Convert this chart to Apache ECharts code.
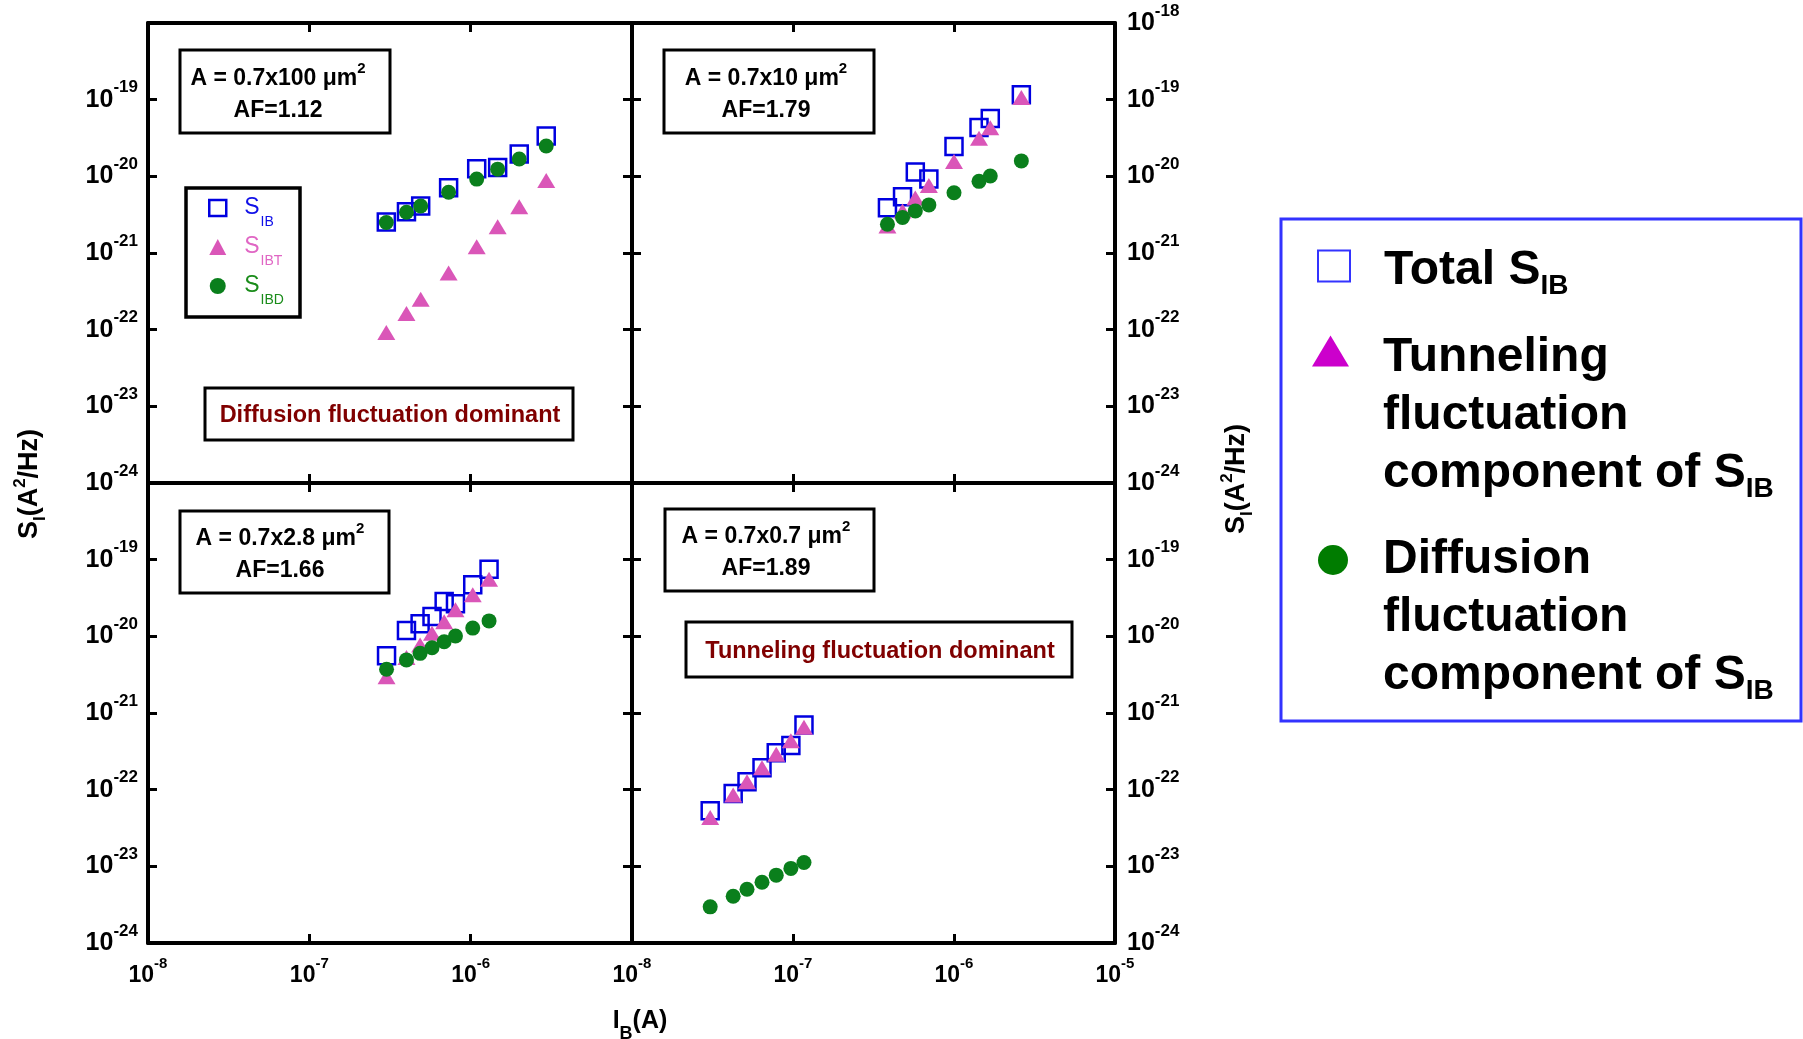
<!DOCTYPE html>
<html>
<head>
<meta charset="utf-8">
<script src="https://cdn.jsdelivr.net/npm/echarts/dist/echarts.min.js"></script>
<style>html,body{margin:0;padding:0;background:#fff}#chart{width:1803px;height:1039px}</style>
</head>
<body>
<div id="chart"></div>
<script>
// ---------------- data ----------------
const xExponents = [-8, -7, -6, -5];                    // I_B tick labels 10^n
const yExponents = [-24, -23, -22, -21, -20, -19, -18]; // S_I tick labels 10^n

const areaLabels = ['0.7x100', '0.7x10', '0.7x2.8', '0.7x0.7'];
const afLabels = ['AF=1.12', 'AF=1.79', 'AF=1.66', 'AF=1.89'];
const seriesNames = ['Total S_IB', 'Tunneling fluctuation component of S_IB', 'Diffusion fluctuation component of S_IB'];

// A = 0.7x100 um^2
const ib_100   = [3.0e-7, 4.0e-7, 4.9e-7, 7.3e-7, 1.09e-6, 1.47e-6, 2.0e-6, 2.94e-6];
const sib_100  = [2.54e-21, 3.46e-21, 4.1e-21, 7.1e-21, 1.26e-20, 1.3e-20, 1.95e-20, 3.36e-20];
const sibt_100 = [9.2e-23, 1.63e-22, 2.5e-22, 5.5e-22, 1.21e-21, 2.2e-21, 4.0e-21, 8.8e-21];
const sibd_100 = [2.5e-21, 3.4e-21, 4.1e-21, 6.2e-21, 9.2e-21, 1.24e-20, 1.68e-20, 2.49e-20];

// A = 0.7x10 um^2
const ib_10   = [3.86e-7, 4.79e-7, 5.75e-7, 6.98e-7, 1.0e-6, 1.43e-6, 1.68e-6, 2.62e-6];
const sib_10  = [3.9e-21, 5.4e-21, 1.14e-20, 9.2e-21, 2.45e-20, 4.34e-20, 5.7e-20, 1.16e-19];
const sibt_10 = [2.25e-21, 3.54e-21, 5.2e-21, 7.6e-21, 1.56e-20, 3.15e-20, 4.3e-20, 1.07e-19];
const sibd_10 = [2.37e-21, 2.9e-21, 3.54e-21, 4.24e-21, 6.1e-21, 8.6e-21, 1.01e-20, 1.59e-20];

// A = 0.7x2.8 um^2
const ib_28   = [3.01e-7, 4.0e-7, 4.86e-7, 5.76e-7, 6.85e-7, 8.05e-7, 1.03e-6, 1.30e-6];
const sib_28  = [5.6e-21, 1.19e-20, 1.46e-20, 1.82e-20, 2.85e-20, 2.66e-20, 4.7e-20, 7.5e-20];
const sibt_28 = [2.98e-21, 5.3e-21, 7.7e-21, 1.1e-20, 1.55e-20, 2.22e-20, 3.48e-20, 5.57e-20];
const sibd_28 = [3.72e-21, 4.93e-21, 6.0e-21, 7.1e-21, 8.5e-21, 1.01e-20, 1.28e-20, 1.59e-20];

// A = 0.7x0.7 um^2
const ib_07   = [3.06e-8, 4.25e-8, 5.18e-8, 6.42e-8, 7.87e-8, 9.7e-8, 1.17e-7];
const sib_07  = [5.3e-23, 8.9e-23, 1.27e-22, 1.93e-22, 3.03e-22, 3.78e-22, 6.98e-22];
const sibt_07 = [4.35e-23, 8.5e-23, 1.27e-22, 1.93e-22, 2.89e-22, 4.35e-22, 6.5e-22];
const sibd_07 = [2.96e-24, 4.07e-24, 5.03e-24, 6.2e-24, 7.67e-24, 9.4e-24, 1.12e-23];

// ---------------- chart ----------------
const F = '"Liberation Sans", Arial, Helvetica, sans-serif';
const panels = [
  [ib_100, sib_100, sibt_100, sibd_100],
  [ib_10, sib_10, sibt_10, sibd_10],
  [ib_28, sib_28, sibt_28, sibd_28],
  [ib_07, sib_07, sibt_07, sibd_07]
];
const gridBoxes = [
  {left: 148, top: 23, width: 484, height: 460},
  {left: 632, top: 23, width: 483, height: 460},
  {left: 148, top: 483, width: 484, height: 460},
  {left: 632, top: 483, width: 483, height: 460}
];

const yRich = {
  b: {fontSize: 25, fontWeight: 'bold', fontFamily: F, lineHeight: 26, color: '#000'},
  s: {fontSize: 17, fontWeight: 'bold', fontFamily: F, lineHeight: 26, padding: [0, 0, 24, 0], color: '#000'}
};
const xRich = {
  b: {fontSize: 23, fontWeight: 'bold', fontFamily: F, lineHeight: 26, color: '#000'},
  s: {fontSize: 15, fontWeight: 'bold', fontFamily: F, lineHeight: 26, padding: [0, 0, 24, 0], color: '#000'}
};
function powLabel(v) {
  const e = Math.round(Math.log10(v));
  if (!isFinite(e)) return '';
  return '{b|10}{s|' + e + '}';
}
const toVals = exps => exps.map(e => Math.pow(10, e));
function baseAxis(extra) {
  return Object.assign({
    type: 'log', logBase: 10,
    splitLine: {show: false}, minorTick: {show: false}, minorSplitLine: {show: false},
    axisLine: {show: true, onZero: false, lineStyle: {color: '#000', width: 4}},
    silent: true
  }, extra);
}
function ticks(exps) {
  return {show: true, inside: true, length: 9, lineStyle: {color: '#000', width: 3}, customValues: toVals(exps)};
}
const xMin = Math.pow(10, xExponents[0]), xMax = Math.pow(10, xExponents[xExponents.length - 1]);
const yMin = Math.pow(10, yExponents[0]), yMax = Math.pow(10, yExponents[yExponents.length - 1]);

const xAxes = [], yAxes = [];
for (let g = 0; g < 4; g++) {
  const bottomRow = g >= 2;
  const xLabelExps = g === 2 ? xExponents.slice(0, -1) : xExponents;
  xAxes.push(baseAxis({gridIndex: g, position: 'bottom', min: xMin, max: xMax, splitNumber: 3,
    axisTick: ticks(xExponents),
    axisLabel: {show: bottomRow, margin: 20, formatter: powLabel, rich: xRich, customValues: toVals(xLabelExps)}}));
  xAxes.push(baseAxis({gridIndex: g, position: 'top', min: xMin, max: xMax, splitNumber: 3,
    axisTick: ticks(xExponents), axisLabel: {show: false}}));
  const leftCol = g % 2 === 0;
  const yLabelExps = g === 1 ? yExponents : yExponents.slice(0, -1);
  yAxes.push(baseAxis({gridIndex: g, position: 'left', min: yMin, max: yMax, splitNumber: 6,
    axisTick: ticks(yExponents),
    axisLabel: {show: leftCol, margin: 10, formatter: powLabel, rich: yRich, customValues: toVals(yLabelExps)}}));
  yAxes.push(baseAxis({gridIndex: g, position: 'right', min: yMin, max: yMax, splitNumber: 6,
    axisTick: ticks(yExponents),
    axisLabel: {show: !leftCol, margin: 12, formatter: powLabel, rich: yRich, customValues: toVals(yLabelExps)}}));
}

const symbolStyles = [
  {symbol: 'rect', symbolSize: 17, itemStyle: {color: 'rgba(0,0,0,0)', borderColor: '#0000e0', borderWidth: 2.5, opacity: 1}, z: 3},
  {symbol: 'triangle', symbolSize: [18, 15], itemStyle: {color: '#da56b8', opacity: 1}, z: 4},
  {symbol: 'circle', symbolSize: 15, itemStyle: {color: '#0a7f1c', opacity: 1}, z: 5}
];
const series = [];
panels.forEach((p, g) => {
  for (let k = 0; k < 3; k++) {
    const ys = p[k + 1];
    series.push(Object.assign({
      type: 'scatter', name: seriesNames[k], xAxisIndex: 2 * g, yAxisIndex: 2 * g,
      data: p[0].map((x, i) => [x, ys[i]]),
      emphasis: {disabled: true}, animation: false
    }, symbolStyles[k]));
  }
});

// small legend inside the first panel
const smallSub = ['IB', 'IBT', 'IBD'];
const smallColors = ['#1010e8', '#e066c4', '#1a8c1a'];
const smallIcons = [
  {icon: 'rect', itemStyle: {color: 'rgba(0,0,0,0)', borderColor: '#0000e0', borderWidth: 2.5}},
  {icon: 'triangle', itemStyle: {color: '#da56b8', borderWidth: 0}},
  {icon: 'circle', itemStyle: {color: '#0a7f1c', borderWidth: 0}}
];
const smallLegend = {
  orient: 'vertical', left: 208, top: 187, padding: 0, itemGap: -3, itemWidth: 17, itemHeight: 16,
  selectedMode: false,
  formatter: name => '{m|S}{sub|' + smallSub[seriesNames.indexOf(name)] + '}',
  textStyle: {fontSize: 23, fontFamily: F, lineHeight: 26, padding: [0, 0, 0, 13]},
  data: seriesNames.map((n, k) => Object.assign({
    name: n,
    textStyle: {color: smallColors[k], rich: {
      m: {fontSize: 23, fontFamily: F, lineHeight: 26, color: smallColors[k]},
      sub: {fontSize: 14, fontFamily: F, lineHeight: 26, padding: [28, 0, 0, 1], color: smallColors[k]}
    }}
  }, smallIcons[k]))
};

// big legend on the right
const bigRich = {
  sub: {fontSize: 28, fontWeight: 'bold', fontFamily: F, lineHeight: 58, padding: [30, 0, 0, 0], color: '#000'}
};
const bigText = [
  'Total S{sub|IB}',
  'Tunneling\nfluctuation\ncomponent of S{sub|IB}',
  'Diffusion\nfluctuation\ncomponent of S{sub|IB}'
];
function bigLegend(k, left, top, w, h, icon, itemStyle, padTop, padLeft) {
  return {
    orient: 'vertical', left: left, top: top, padding: 0, itemWidth: w, itemHeight: h,
    selectedMode: false,
    formatter: () => bigText[k],
    textStyle: {fontSize: 48, fontWeight: 'bold', fontFamily: F, lineHeight: 58, color: '#000',
      padding: [padTop, 0, 0, padLeft], rich: bigRich},
    data: [{name: seriesNames[k], icon: icon, itemStyle: itemStyle}]
  };
}
const legends = [
  smallLegend,
  bigLegend(0, 1317, 232, 32, 31, 'rect', {color: 'rgba(0,0,0,0)', borderColor: '#3333ff', borderWidth: 2}, 10, 29),
  bigLegend(1, 1312, 199, 37, 31, 'triangle', {color: '#cc00cc', borderWidth: 0}, 130, 29),
  bigLegend(2, 1318, 415, 30, 30, 'circle', {color: '#007c00', borderWidth: 0}, 116, 30)
];

// annotations
const boxText = (i) => 'A = ' + areaLabels[i] + ' \u03bcm{sup|2}\n' + afLabels[i];
const annRich = {sup: {fontSize: 15, fontWeight: 'bold', fontFamily: F, lineHeight: 32, padding: [0, 0, 20, 0], fill: '#000'}};
function annBox(i, x, y, w, h, tx) {
  return [
    {type: 'rect', shape: {x: x, y: y, width: w, height: h}, style: {fill: 'none', stroke: '#000', lineWidth: 3}, z: 10},
    {type: 'text', x: tx, y: y + h / 2 + 3, z: 11, style: {text: boxText(i), align: 'center', verticalAlign: 'middle',
      fontSize: 23, fontWeight: 'bold', fontFamily: F, lineHeight: 32, fill: '#000', rich: annRich}}
  ];
}
function redBox(text, x, y, w, h) {
  return [
    {type: 'rect', shape: {x: x, y: y, width: w, height: h}, style: {fill: 'none', stroke: '#000', lineWidth: 3}, z: 10},
    {type: 'text', x: x + w / 2 + 1, y: y + h / 2 + 2, z: 11, style: {text: text, align: 'center', verticalAlign: 'middle',
      fontSize: 23.5, fontWeight: 'bold', fontFamily: F, fill: '#800000'}}
  ];
}
const titleRich = {
  sub: {fontSize: 17, fontWeight: 'bold', fontFamily: F, lineHeight: 30, padding: [20, 0, 0, 0], fill: '#000'},
  sup: {fontSize: 17, fontWeight: 'bold', fontFamily: F, lineHeight: 30, padding: [0, 0, 20, 0], fill: '#000'}
};
const xTitleRich = {
  sub: {fontSize: 18, fontWeight: 'bold', fontFamily: F, lineHeight: 30, padding: [26, 0, 0, 0], fill: '#000'}
};
const graphics = [].concat(
  annBox(0, 180, 50, 210, 83, 278),
  annBox(1, 664, 50, 210, 83, 766),
  annBox(2, 180, 511, 209, 82, 280),
  annBox(3, 665, 509, 209, 82, 766),
  redBox('Diffusion fluctuation dominant', 205, 388, 368, 52),
  redBox('Tunneling fluctuation dominant', 686, 622, 386, 55),
  [
    {type: 'rect', shape: {x: 186, y: 188, width: 114, height: 129}, style: {fill: 'none', stroke: '#000', lineWidth: 3.5}, z: 10},
    {type: 'rect', shape: {x: 1281, y: 219, width: 520, height: 502}, style: {fill: 'none', stroke: '#3333ff', lineWidth: 3}, z: 10},
    {type: 'text', x: 30, y: 484, rotation: Math.PI / 2, z: 11, style: {text: 'S{sub|I}(A{sup|2}/Hz)', align: 'center', verticalAlign: 'middle',
      fontSize: 27, fontWeight: 'bold', fontFamily: F, lineHeight: 30, fill: '#000', rich: titleRich}},
    {type: 'text', x: 1237, y: 479, rotation: Math.PI / 2, z: 11, style: {text: 'S{sub|I}(A{sup|2}/Hz)', align: 'center', verticalAlign: 'middle',
      fontSize: 27, fontWeight: 'bold', fontFamily: F, lineHeight: 30, fill: '#000', rich: titleRich}},
    {type: 'text', x: 640, y: 1021, z: 11, style: {text: 'I{sub|B}(A)', align: 'center', verticalAlign: 'middle',
      fontSize: 25, fontWeight: 'bold', fontFamily: F, lineHeight: 30, fill: '#000', rich: xTitleRich}}
  ]
);

const chart = echarts.init(document.getElementById('chart'), null, {renderer: 'canvas'});
chart.setOption({
  backgroundColor: '#fff',
  animation: false,
  grid: gridBoxes.map(b => Object.assign({containLabel: false, outerBoundsMode: 'none'}, b)),
  xAxis: xAxes,
  yAxis: yAxes,
  legend: legends,
  series: series,
  graphic: graphics
});
</script>
</body>
</html>
